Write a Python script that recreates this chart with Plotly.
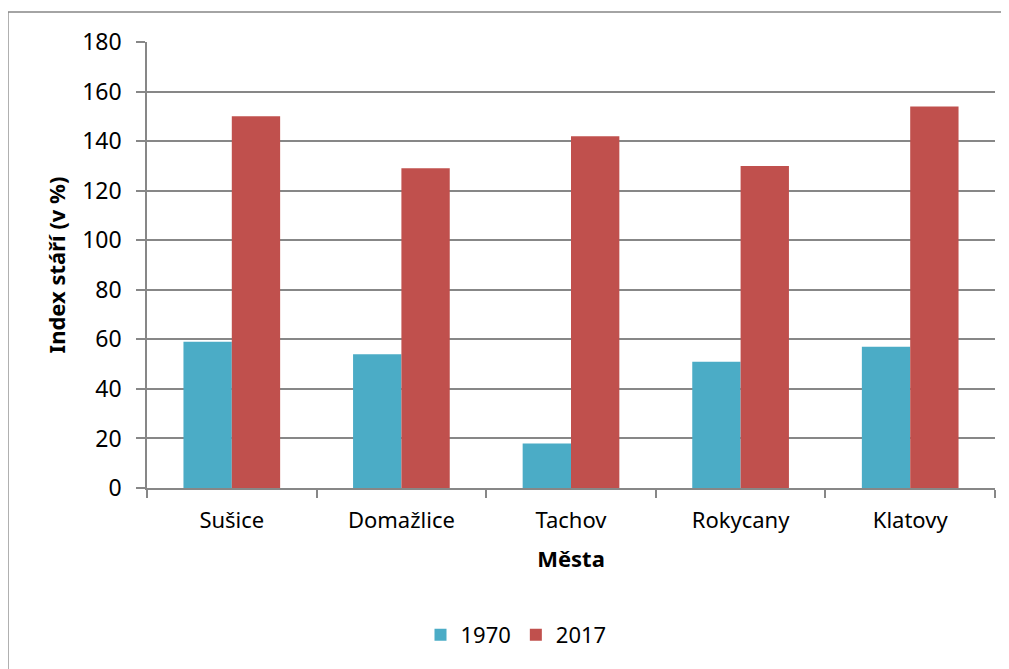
import plotly.graph_objects as go

cities = ["Sušice", "Domažlice", "Tachov", "Rokycany", "Klatovy"]
v1970 = [59, 54, 18, 51, 57]
v2017 = [150, 129, 142, 130, 154]
series_names = ["1970", "2017"]
y_ticks = [0, 20, 40, 60, 80, 100, 120, 140, 160, 180]

FONT = "Noto Sans"
GRID = "#878787"
OFF = 8  # page body margin

fig = go.Figure()
fig.add_trace(go.Bar(x=cities, y=v1970, name=series_names[0], marker_color="#4BACC6",
                     marker_line_width=0))
fig.add_trace(go.Bar(x=cities, y=v2017, name=series_names[1], marker_color="#C0504D",
                     marker_line_width=0))

W, H = 1009 - OFF, 669 - OFF
L, T = 147 - OFF, 42 - OFF
R = W - (995 - OFF)
B = H - (488 - OFF)
pw, ph = W - L - R, H - T - B

def px_x(x):
    return (x - 147) / pw

def px_y(y):
    return (488 - y) / ph

fig.update_layout(
    width=W, height=H,
    margin=dict(l=L, r=R, t=T, b=B, pad=0),
    paper_bgcolor="white", plot_bgcolor="white",
    barmode="group", bargap=0.43, bargroupgap=0,
    font=dict(family=FONT, size=22, color="black"),
    showlegend=True,
    legend=dict(orientation="h", x=px_x(516), xanchor="center", y=px_y(635), yanchor="middle",
                font=dict(size=22), itemwidth=30, traceorder="normal"),
    shapes=[dict(type="rect", xref="paper", yref="paper",
                 x0=px_x(8), x1=px_x(1030),
                 y0=px_y(700), y1=px_y(12),
                 line=dict(color="#868686", width=1.3), fillcolor="rgba(0,0,0,0)", layer="below")],
)
fig.update_xaxes(
    showgrid=False, showline=True, linecolor=GRID, linewidth=1.5,
    ticks="outside", tickson="boundaries", ticklen=8, tickcolor=GRID, tickwidth=1.5,
    tickfont=dict(size=22), ticklabelstandoff=12,
    title=dict(text="<b>Města</b>", font=dict(size=22), standoff=18),
)
fig.update_yaxes(
    range=[0, 180], tickvals=y_ticks, showgrid=True, gridcolor=GRID, gridwidth=1.5,
    showline=True, linecolor=GRID, linewidth=1.5,
    ticks="outside", ticklen=9, tickcolor=GRID, tickwidth=1.5,
    tickfont=dict(size=23), ticklabelstandoff=10,
    zeroline=False,
    title=dict(text="<b>Index stáří (v %)</b>", font=dict(size=22), standoff=10),
)

fig.write_html("out.html")
